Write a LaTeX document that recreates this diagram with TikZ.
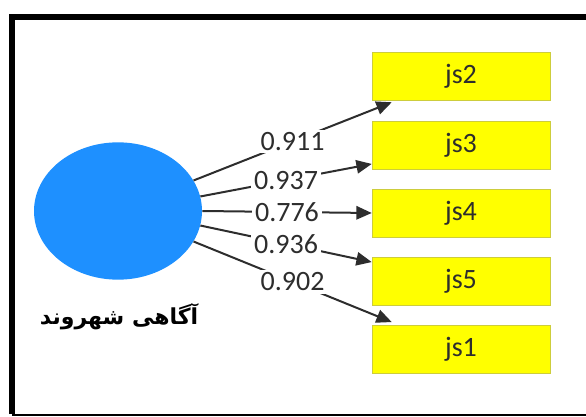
\documentclass[tikz,border=0pt]{standalone}
\usepackage{fontspec}
\setmainfont{Carlito}
\newfontfamily\persianfont[Script=Arabic]{DejaVu Sans}
\TeXXeTstate=1
\usetikzlibrary{arrows.meta,shapes.geometric}
\definecolor{latblue}{RGB}{30,144,255}
\definecolor{itemyellow}{RGB}{255,255,0}
\definecolor{itemedge}{RGB}{205,205,60}
\definecolor{inkgray}{RGB}{45,45,45}

\begin{document}
\begin{tikzpicture}[x=0.75pt,y=-0.75pt,
    item/.style={draw=itemedge, fill=itemyellow, minimum width=133.5pt, minimum height=36pt,
      inner sep=0pt, text=inkgray, font=\fontsize{21}{21}\selectfont},
    load/.style={draw=inkgray, line width=1.5pt, -{Triangle[length=11.5pt,width=10pt]}},
    val/.style={fill=white, inner sep=2pt, text=inkgray, font=\fontsize{21}{21}\selectfont}]
  \useasboundingbox (0,0) rectangle (586,417);
  \draw[line width=4.5pt] (12,414) -- (12,17) -- (600,17);
  \draw[line width=2pt] (12,415) -- (600,415);
  \node[ellipse, fill=latblue, minimum width=126pt, minimum height=103pt, inner sep=0pt] (lat) at (118,211) {};
  \node[font=\persianfont\bfseries\fontsize{16.5}{16.5}\selectfont] (latname) at (119,317) {\beginR آگاهی شهروند\endR};
  \foreach \name/\yy in {js2/76, js3/145, js4/213, js5/281, js1/349}
    \node[item] (\name) at (461,\yy) {\name};
  \draw[load] (lat.22) -- node[val] {0.911} ([xshift=15pt,yshift=-1.5pt]js2.south west);
  \draw[load] (lat.10) -- node[val] {0.937} ([yshift=4pt]js3.south west);
  \draw[load] (lat.east) -- node[val] {0.776} (js4.west);
  \draw[load] (lat.-10) -- node[val] {0.936} ([yshift=-4pt]js5.north west);
  \draw[load] (lat.-22) -- node[val] {0.902} ([xshift=15pt,yshift=2pt]js1.north west);
\end{tikzpicture}
\end{document}
